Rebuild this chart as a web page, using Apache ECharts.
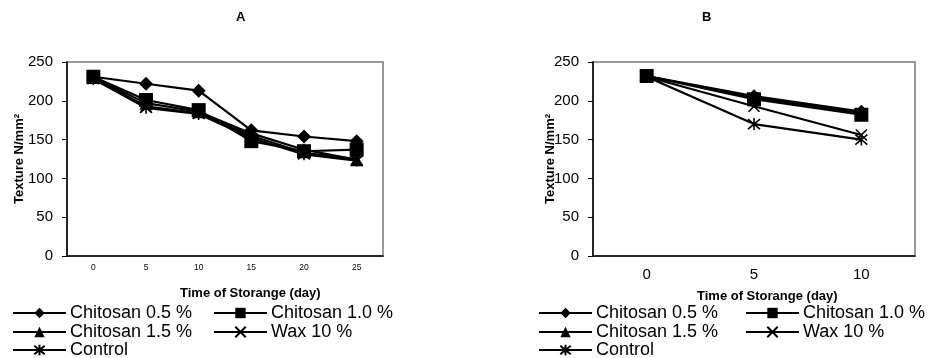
<!DOCTYPE html>
<html>
<head>
<meta charset="utf-8">
<script src="https://cdn.jsdelivr.net/npm/echarts@6/dist/echarts.min.js"></script>
<style>
  html, body { margin: 0; padding: 0; background: #fff; }
  #main { width: 929px; height: 358px; }
</style>
</head>
<body>
<div id="main"></div>
<script>
// data
var seriesNames = ['Chitosan 0.5 %', 'Chitosan 1.0 %', 'Chitosan 1.5 %', 'Wax 10 %', 'Control'];

var daysA = ['0', '5', '10', '15', '20', '25'];
var chi05A = [231, 222, 213, 162, 154, 148];
var chi10A = [231, 201, 188, 148, 135, 137];
var chi15A = [230, 197, 186, 158, 137, 124];
var waxA = [229, 193, 184, 155, 133, 125];
var controlA = [228, 191, 183, 152, 131, 123];

var daysB = ['0', '5', '10'];
var chi05B = [232, 206, 186];
var chi10B = [232, 202, 182];
var chi15B = [232, 204, 184];
var waxB = [231, 193, 156];
var controlB = [231, 170, 150];

var crossPath = 'path://M0,0L10,10M10,0L0,10';
var starPath = 'path://M0,0L10,10M10,0L0,10M5,-1L5,11';

var symbols = ['diamond', 'rect', 'triangle', crossPath, starPath];
var sizes = [14, 14, 13, 11, 12];

var myChart = echarts.init(document.getElementById('main'));

function makeSeries(dataList, idx) {
  var out = [];
  for (let i = 0; i < dataList.length; i++) {
    var stroked = i >= 3;
    out.push({
      name: seriesNames[i],
      type: 'line',
      xAxisIndex: idx,
      yAxisIndex: idx,
      data: dataList[i],
      symbol: symbols[i],
      symbolSize: sizes[i],
      showSymbol: true,
      lineStyle: { color: '#000', width: 2.2 },
      itemStyle: stroked
        ? { color: '#000', borderColor: '#000', borderWidth: 1.6 }
        : { color: '#000', borderWidth: 0 },
      emphasis: { disabled: true },
      animation: false,
      z: 10 - i
    });
  }
  return out;
}

function yAxisFor(idx, gap) {
  return {
    gridIndex: idx,
    type: 'value',
    min: 0,
    max: 250,
    interval: 50,
    name: 'Texture N/mm\u00b2',
    nameLocation: 'middle',
    nameGap: gap,
    nameMoveOverlap: false,
    nameTextStyle: { fontFamily: 'Liberation Sans', fontWeight: 'bold', fontSize: 13, color: '#000' },
    axisLine: { show: true, lineStyle: { color: '#000', width: 1.5 } },
    axisTick: { show: true, length: 5, lineStyle: { color: '#000' } },
    axisLabel: { fontFamily: 'Liberation Sans', fontSize: 15, color: '#000', margin: 14 },
    splitLine: { show: false }
  };
}

function legendsFor(x1, x2) {
  var base = {
    itemWidth: 53,
    itemHeight: 13,
    itemGap: 0,
    selectedMode: false,
    padding: 0,
    textStyle: { fontFamily: 'Liberation Sans', fontSize: 18, color: '#000', padding: [0, 0, 0, -1] }
  };
  var rows = [
    [[seriesNames[0], x1, 304], [seriesNames[1], x2, 304]],
    [[seriesNames[2], x1, 323], [seriesNames[3], x2, 323]],
    [[seriesNames[4], x1, 341]]
  ];
  var out = [];
  rows.forEach(function (row) {
    row.forEach(function (it) {
      out.push(Object.assign({}, base, { data: [it[0]], left: it[1], top: it[2] }));
    });
  });
  return out;
}

var boldText = { fontFamily: 'Liberation Sans', fontWeight: 'bold', fontSize: 13, color: '#000' };

var option = {
  backgroundColor: '#fff',
  animation: false,
  title: [
    { text: 'A', left: 236, top: 11, padding: 0, textStyle: boldText },
    { text: 'B', left: 702, top: 11, padding: 0, textStyle: boldText },
    { text: 'Time of Storange (day)', left: 180, top: 287, padding: 0, textStyle: boldText },
    { text: 'Time of Storange (day)', left: 697, top: 290, padding: 0, textStyle: boldText }
  ],
  legend: legendsFor(12, 213).concat(legendsFor(538, 745)),
  grid: [
    { left: 67, right: 546, top: 62, bottom: 102, show: true, borderColor: '#999', borderWidth: 2, backgroundColor: '#fff' },
    { left: 593, right: 14, top: 62, bottom: 102, show: true, borderColor: '#999', borderWidth: 2, backgroundColor: '#fff' }
  ],
  xAxis: [
    {
      gridIndex: 0,
      type: 'category',
      data: daysA,
      boundaryGap: true,
      axisLine: { lineStyle: { color: '#000', width: 1.5 } },
      axisTick: { length: 4, lineStyle: { color: '#000' } },
      axisLabel: { fontFamily: 'Liberation Sans', fontSize: 8.5, color: '#000', margin: 7 }
    },
    {
      gridIndex: 1,
      type: 'category',
      data: daysB,
      boundaryGap: true,
      axisLine: { lineStyle: { color: '#000', width: 1.5 } },
      axisTick: { length: 5, lineStyle: { color: '#000' } },
      axisLabel: { fontFamily: 'Liberation Sans', fontSize: 15, color: '#000', margin: 11 }
    }
  ],
  yAxis: [yAxisFor(0, 41), yAxisFor(1, 36)],
  series: makeSeries([chi05A, chi10A, chi15A, waxA, controlA], 0)
    .concat(makeSeries([chi05B, chi10B, chi15B, waxB, controlB], 1))
};

myChart.setOption(option);
</script>
</body>
</html>
